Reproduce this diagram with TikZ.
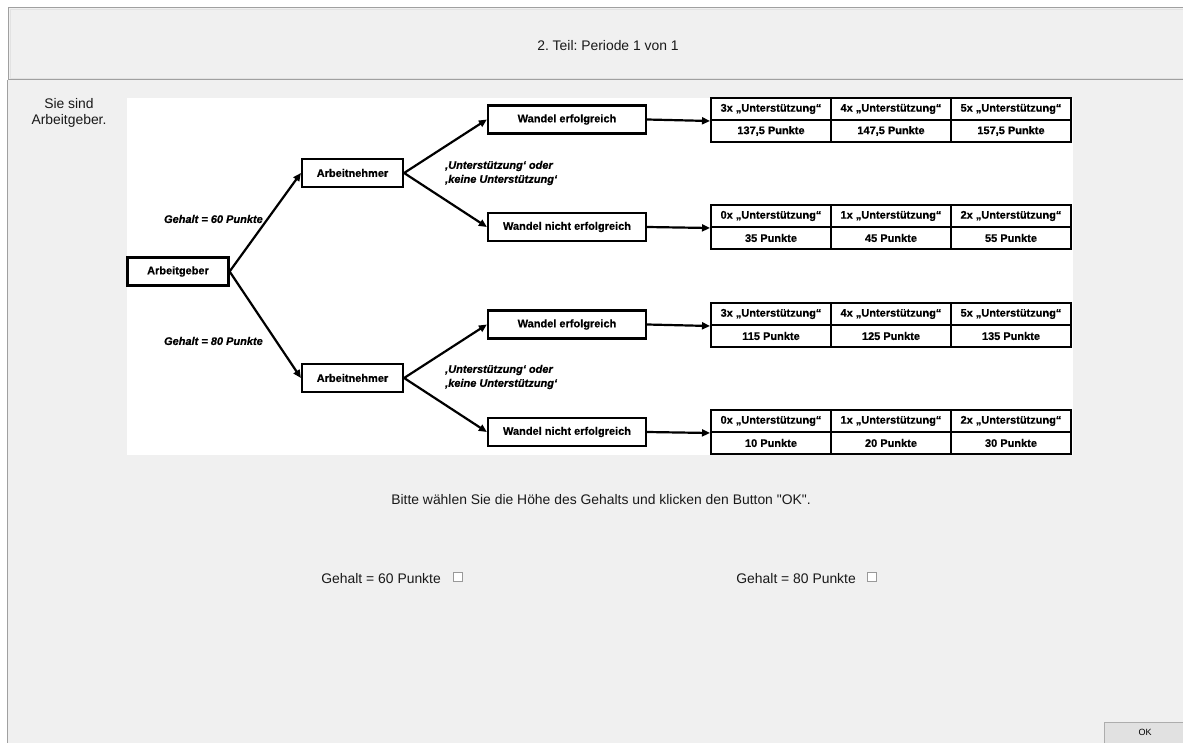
\documentclass[tikz,border=0pt]{standalone}
\usepackage{fontspec}
\setmainfont{Liberation Sans}
\newfontfamily\heavy{Liberation Sans}[BoldFeatures={FakeBold=0.6}, BoldItalicFeatures={FakeBold=0.6}]
\usetikzlibrary{arrows.meta}
\definecolor{bg}{HTML}{F0F0F0}
\definecolor{framegray}{HTML}{A0A0A0}
\definecolor{btnfill}{HTML}{E1E1E1}
\definecolor{btnline}{HTML}{ADADAD}
\frenchspacing
\begin{document}
\begin{tikzpicture}[x=1pt,y=-1pt,
  ui/.style={font=\fontsize{13.9}{15.5}\selectfont, inner sep=0pt, text=black!90},
  box/.style={draw, line width=2.2pt, fill=white, font=\heavy\bfseries\fontsize{11}{13}\selectfont, minimum height=28pt, inner sep=0pt},
  cell/.style={draw, line width=2pt, minimum width=120pt, minimum height=22pt, inner sep=0pt, font=\heavy\bfseries\fontsize{11}{13}\selectfont},
  lab/.style={font=\heavy\bfseries\itshape\fontsize{11}{14}\selectfont, inner sep=0pt},
  arr/.style={line width=2.2pt, -{Triangle[length=8pt,width=7pt]}},
  cbox/.style={draw=black!40, fill=white, line width=0.6pt, minimum size=9pt, inner sep=0pt},
]
\useasboundingbox (0,0) rectangle (1183,743);
\fill[white] (0,0) rectangle (1183,743);
\fill[bg] (8,7) rectangle (1183,743);
% header panel
\draw[framegray, line width=1pt] (8.5,7.5) rectangle (1195,80);
\draw[white!70!framegray, line width=0.6pt] (10,9) rectangle (1195,78.5);
\draw[framegray, line width=1pt] (7.5,80) -- (7.5,745);
\node[ui] (title) at (608,46) {2. Teil: Periode 1 von 1};
\node[ui, align=center] (sie) at (69,113) {Sie sind\\Arbeitgeber.};

% diagram background
\fill[white] (127,98) rectangle (1073,455);

% tree nodes
\node[box, minimum width=101pt] (ag) at (178,271.5) {Arbeitgeber};
\node[box, minimum width=101pt] (an1) at (352.5,173) {Arbeitnehmer};
\node[box, minimum width=101pt] (an2) at (352.5,378) {Arbeitnehmer};
\node[box, minimum width=158pt] (w1) at (567,119.5) {Wandel erfolgreich};
\node[box, minimum width=158pt] (w2) at (567,227) {Wandel nicht erfolgreich};
\node[box, minimum width=158pt] (w3) at (567,324.5) {Wandel erfolgreich};
\node[box, minimum width=158pt] (w4) at (567,432) {Wandel nicht erfolgreich};

% tables
\node[cell] (t1a) at (771,109) {3x „Unterstützung“};
\node[cell] (t1b) at (891,109) {4x „Unterstützung“};
\node[cell] (t1c) at (1011,109) {5x „Unterstützung“};
\node[cell] (t1d) at (771,131) {137,5 Punkte};
\node[cell] (t1e) at (891,131) {147,5 Punkte};
\node[cell] (t1f) at (1011,131) {157,5 Punkte};

\node[cell] (t2a) at (771,216) {0x „Unterstützung“};
\node[cell] (t2b) at (891,216) {1x „Unterstützung“};
\node[cell] (t2c) at (1011,216) {2x „Unterstützung“};
\node[cell] (t2d) at (771,238) {35 Punkte};
\node[cell] (t2e) at (891,238) {45 Punkte};
\node[cell] (t2f) at (1011,238) {55 Punkte};

\node[cell] (t3a) at (771,314) {3x „Unterstützung“};
\node[cell] (t3b) at (891,314) {4x „Unterstützung“};
\node[cell] (t3c) at (1011,314) {5x „Unterstützung“};
\node[cell] (t3d) at (771,336) {115 Punkte};
\node[cell] (t3e) at (891,336) {125 Punkte};
\node[cell] (t3f) at (1011,336) {135 Punkte};

\node[cell] (t4a) at (771,421) {0x „Unterstützung“};
\node[cell] (t4b) at (891,421) {1x „Unterstützung“};
\node[cell] (t4c) at (1011,421) {2x „Unterstützung“};
\node[cell] (t4d) at (771,443) {10 Punkte};
\node[cell] (t4e) at (891,443) {20 Punkte};
\node[cell] (t4f) at (1011,443) {30 Punkte};

% connectors
\draw[arr] (ag.east) -- (an1.west);
\draw[arr] (ag.east) -- (an2.west);
\draw[arr] (an1.east) -- (w1.west);
\draw[arr] (an1.east) -- (w2.west);
\draw[arr] (an2.east) -- (w3.west);
\draw[arr] (an2.east) -- (w4.west);
\draw[arr] (w1.east) -- (t1a.south west);
\draw[arr] (w2.east) -- (t2a.south west);
\draw[arr] (w3.east) -- (t3a.south west);
\draw[arr] (w4.east) -- (t4a.south west);

% labels
\node[lab, anchor=east] (g60) at (263,219) {Gehalt = 60 Punkte};
\node[lab, anchor=east] (g80) at (263,341) {Gehalt = 80 Punkte};
\node[lab, anchor=west, align=left] (us1) at (445,173) {‚Unterstützung‘ oder\\‚keine Unterstützung‘};
\node[lab, anchor=west, align=left] (us2) at (445,377) {‚Unterstützung‘ oder\\‚keine Unterstützung‘};

% bottom UI
\node[ui] (bitte) at (601,500) {Bitte wählen Sie die Höhe des Gehalts und klicken den Button \textquotedbl OK\textquotedbl.};
\node[ui, anchor=east] (c60t) at (441,579) {Gehalt = 60 Punkte};
\node[cbox] (c60) at (457.5,576.5) {};
\node[ui, anchor=east] (c80t) at (856,579) {Gehalt = 80 Punkte};
\node[cbox] (c80) at (872,577) {};
\node[draw=btnline, fill=btnfill, line width=1pt, minimum width=84pt, minimum height=22pt, anchor=north west, inner sep=0pt] (ok) at (1103.5,721.5) {};
\node[font=\fontsize{9}{10}\selectfont, inner sep=0pt] (oktext) at (1145,732.5) {OK};
\end{tikzpicture}
\end{document}
